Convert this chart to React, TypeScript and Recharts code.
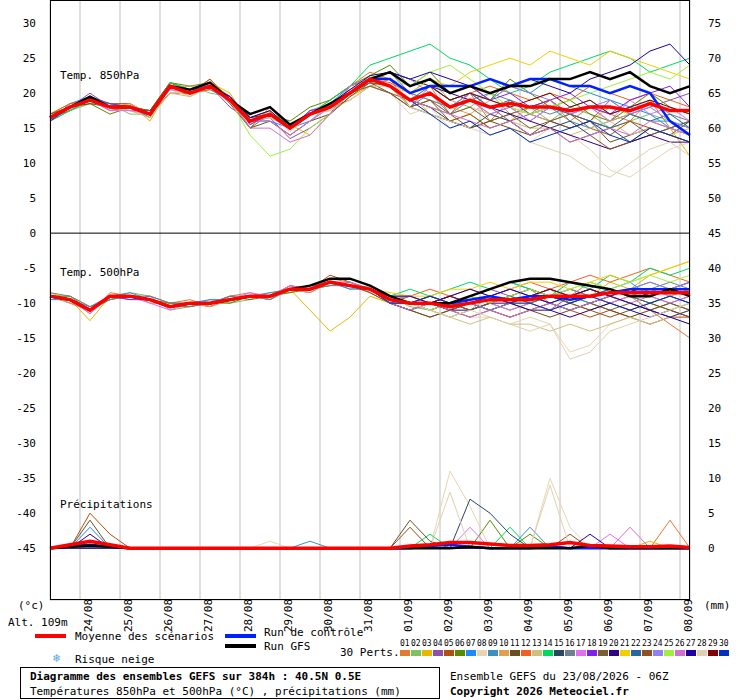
import React from 'react';
import { ComposedChart, Line, XAxis, YAxis, CartesianGrid, ReferenceLine } from 'recharts';

// 12-hourly steps from 23/08 06Z (hours)
const steps = [0,12,24,36,48,60,72,84,96,108,120,132,144,156,168,180,192,204,216,228,240,252,264,276,288,300,312,324,336,348,360,372,384];
const dayTicks = [18,42,66,90,114,138,162,186,210,234,258,282,306,330,354,378];
const dayLabels = ['24/08','25/08','26/08','27/08','28/08','29/08','30/08','31/08','01/09','02/09','03/09','04/09','05/09','06/09','07/09','08/09'];
const leftTicks = [30,25,20,15,10,5,0,-5,-10,-15,-20,-25,-30,-35,-40,-45];

const memberColors = ['#e07b30','#80c060','#e6b800','#8e4fa8','#b05010','#5a8a00','#1e88ff','#e8d4b0','#3a90c0','#e0a050','#6a5020','#f06020','#d0c080','#00d860','#284860','#708090','#e070f0','#8020f0','#7a6030','#300080','#f0d000','#2868a0','#905020','#9080f0','#a0f040','#d070d0','#2000a0','#e0d0b0','#800000','#0030c0'];

const mean850 = [16.5,18,19,18,18,17,21,20,21,19,16,17,15,17,18,20,22,21,19,20,18,19,18,18.5,18,18,17.5,18,18,17.5,18.5,17.5,17.5];
const ctrl850 = [16.5,18,19,18,18,17,21,20,21,19,16,17,15,17,18,20,22,22,20,21,21,21,22,21,22,22,21,21,20,21,20,16,14];
const gfs850 = [16.5,18,19.5,18,18,17,21,20.5,21.5,19,17,18,15.5,17,18.5,20,22,23,21,22,20,21,20,21,21,22,22,23,22,23,21,20,21];
const mean500 = [-9,-9.5,-11,-9,-9,-9.5,-10.5,-10,-10,-9.5,-9,-9,-8,-8,-7,-7.5,-8,-9.5,-10,-10,-10.5,-10,-9.5,-9.5,-9.5,-9,-9,-9,-8.5,-8.5,-8.5,-8.5,-8.5];
const ctrl500 = [-9,-9.5,-11,-9,-9,-9.5,-10.5,-10,-10,-9.5,-9,-9,-8,-8,-7,-7.5,-8,-9.5,-10,-10,-10,-9.5,-9,-9.5,-9,-9,-9.5,-9,-8.5,-8,-8,-8,-8];
const gfs500 = [-9,-9.5,-11,-9,-9,-9.5,-10.5,-10,-10,-9.5,-9,-9,-8,-7.5,-6.5,-6.5,-7.5,-9,-10,-10,-10,-9,-8,-7,-6.5,-6.5,-7,-7.5,-8,-9,-9,-8,-9];
const meanPr = [0,0.5,1,0.5,0,0,0,0,0,0,0,0,0,0,0,0,0,0,0.3,0.5,0.8,0.8,0.6,0.4,0.4,0.5,0.8,0.4,0.3,0.2,0.2,0.3,0.1];
const ctrlPr = [0,0.3,0.5,0.2,0,0,0,0,0,0,0,0,0,0,0,0,0,0,0,0.3,0.5,0.2,0,0,0,0.3,0,0,0,0,0,0,0];
const gfsPr = [0,0.2,0.4,0.2,0,0,0,0,0,0,0,0,0,0,0,0,0,0,0,0,0,0.2,0,0,0,0,0,0.4,0,0,0,0,0];

const pert850 = [
  [16,18,19.5,17.5,18,16.5,21.5,20,22,19,15,18,15,17,19,21,23,22,18,21,17,20,16,19,17,19,16,18,17,16,19,15,14],
  [16.5,17.5,18.5,18.5,17,17,20.5,21,20,19.5,16.5,16,14,16,18.5,20,22.5,22,20,22,19,18,20,17,18,16,18,17,15,16,17,16,15],
  [17,18.5,19,18,18.5,16,21,19.5,21.5,20,15.5,17,15.5,14,17,19.5,21,22,20,17,16,17,15,16,18,19,17,16,18,17,16,15,11],
  [16,18,20,18,17.5,17.5,21,20.5,21,18,16,16.5,13.5,15,17,21,22,23,20,21,19,20,18,16,17,16,15,16,19,17,18,19,20],
  [16.5,17.5,19,18.5,18.5,17,20,20,22,19,16.5,17.5,15,17,18,19,21,20,19,18,17,15,16,17,18,19,17,15,14,16,15,14,13],
  [17,18,18.5,17,18,17.5,21.5,21,21.5,19.5,15,17,16,18,19,21,22.5,24,21,23,20,21,19,22,20,18,19,17,16,18,20,18,17],
  [16,18.5,19.5,18,18,16.5,21,20,20.5,19,16,16,15,16,18,20,21.5,21,18,20,18,20,19,21,20,22,21,20,19,18,17,15,14],
  [16.5,18,19,18,17.5,17,20.5,19.5,21,18.5,15.5,17,14.5,17,17.5,19,21,20,17,18,15,16,14,15,13,15,14,12,9,8,10,12,13],
  [16,17.5,19,18.5,18,17,21,20,21,19.5,16,17,15,17.5,18.5,21,22,21,19,20,17,19,17,18,16,18,16,15,16,17,16,16,15],
  [16.5,18,19.5,18,18.5,17,21,21,21,19,16,17.5,15,17,18,20,21,22,20,19,18,17,19,18,17,16,17,18,16,17,16,15,14],
  [16,18,18.5,18,18,17.5,21.5,20.5,21.5,18.5,15,16,14,16,17,19.5,21.5,20,18,17,16,15,16,15,14,16,15,16,13,14,15,14,16],
  [17,18.5,19,17.5,18,17,21,20,20.5,19.5,16.5,17,15.5,17,18,20.5,22,21.5,20,21,19,20,21,20,19,20,19,21,20,19,20,19,18],
  [16.5,18,19,18,17.5,16.5,20,19.5,21,19,16,16.5,15,17,17.5,20,21,21,19,18,17,18,17,16,15,15,14,15,16,14,15,14,15],
  [16,17.5,19,18.5,18,17,21.5,20.5,21,19,16,17,15,17,19,21,24,25,26,27,25,24,22,20,21,23,24,25,26,25,23,24,25],
  [16.5,18,19.5,18,18,17,21,20,21,19.5,16.5,17,15.5,17,18,20,22,21,19,18,16,15,17,16,14,15,16,14,15,13,14,15,16],
  [16,18,19,18,18,17,21,20,21,19,16,17,15,17,18,20,22,22,20,19,18,19,20,19,18,17,18,19,17,18,19,17,16],
  [16.5,18,19,17.5,17.5,17,20.5,20,21.5,19,16,16,14,16,18,21,22,21,19,20,18,19,17,18,16,18,17,18,16,19,17,18,16],
  [16,18,19.5,18.5,18,17,21,20.5,21,19.5,15.5,17,15,17.5,18,20,22,23,21,22,20,21,19,20,18,19,20,18,17,19,20,21,18],
  [17,18,19,18,18,17.5,21,20,21,19,16,17,15,17,18,20,21,20,18,19,17,18,16,17,15,16,17,16,15,16,14,15,16],
  [16,18,19,18,18,17,21,20,21,19.5,16.5,17.5,15,17,18.5,20.5,22.5,23,22,21,20,19,18,17,16,15,14,13,12,13,14,13,13],
  [16.5,18,19,18,18,17,21,20,21,19,16,17,15,17,18,20,22,21,20,22,21,23,24,25,24,26,25,24,26,25,24,23,22],
  [16,18,19,18,18,17,21,20,21,19,16,17,15,17,18,20,22,21,19,21,19,20,18,19,17,18,17,16,15,17,16,17,15],
  [16.5,18,19,18,18,17,21,20,21,19,16,17,15,17,18,20,21.5,21,18,19,16,17,15,16,14,15,13,14,12,13,15,14,13],
  [16,18,19,18,18,17,21,20,21,19,16,17,15,17,18,20,22,23,22,20,18,20,19,21,20,19,17,18,19,17,18,16,15],
  [16.5,18,19,18,18,17,21,20,21,19,14,11,12,15,17,20,22,22,21,23,24,22,20,18,17,18,19,20,21,22,23,22,24],
  [16,18,19,18,18,17,21,20,21,19,15,15,13,14,17,20,22,21,19,18,17,16,15,16,14,15,13,14,15,14,16,15,14],
  [16.5,18,19,18,18,17,21,20,21,19,16,17,15,17,18,20,22,23,22,23,22,21,20,21,22,21,20,22,23,24,26,27,24],
  [16,18,19,18,18,17,21,20,21,19,16,17,15,17,18,20,22,21,18,17,16,15,14,15,13,12,11,9,8,10,12,13,11],
  [16.5,18,19,18,18,17,21,20,21,19,16,17,15,17,18,20,22,22,20,21,19,20,19,18,19,20,18,19,17,18,19,18,17],
  [16,18,19,18,18,17,21,20,21,19,16,17,15,17,18,20,22,21,19,17,15,16,14,15,13,14,15,16,14,13,15,14,13],
];

const pert500 = [
  [-9,-9.5,-11.5,-8.5,-9,-10,-10,-9.5,-10.5,-9,-8.5,-9.5,-7.5,-8,-6.5,-7,-8.5,-10,-11,-10,-11,-9,-10,-9,-8,-10,-9,-7,-8,-9,-11,-13,-15],
  [-9,-9,-10.5,-9.5,-8.5,-9,-11,-10.5,-9.5,-10,-9.5,-8.5,-8.5,-7.5,-7,-8,-7.5,-9,-10.5,-11,-10,-11,-9,-10,-10,-9,-10,-9,-8,-9,-10,-9,-8],
  [-8.5,-9.5,-12.5,-9,-9,-9.5,-10.5,-10,-10,-9.5,-9,-9,-8,-11,-14,-12,-9,-10,-9,-10,-11,-10,-11,-10,-9,-8,-10,-9,-7,-8,-6,-5,-4],
  [-9,-10,-11,-9,-9.5,-9,-10,-10,-10.5,-9.5,-9,-9.5,-8,-8.5,-7,-7.5,-8,-9,-10,-9,-10,-9,-8,-9,-10,-11,-9,-10,-9,-8,-9,-10,-9],
  [-9,-9.5,-11,-9.5,-9,-9.5,-10.5,-10.5,-10,-9,-9.5,-9,-7.5,-8,-6,-7,-8,-10,-11,-12,-11,-10,-11,-12,-11,-10,-11,-12,-11,-12,-13,-12,-12],
  [-9,-9,-11,-9,-9,-9.5,-10,-10,-10,-10,-9,-9,-8.5,-8,-7.5,-7,-8,-9.5,-10,-11,-12,-11,-10,-11,-10,-9,-10,-11,-10,-9,-10,-11,-10],
  [-9.5,-9.5,-11,-9,-9,-9.5,-10.5,-10,-9.5,-9.5,-9,-9,-8,-8,-7,-8,-8,-10,-10,-9,-10,-9,-8,-7,-8,-9,-8,-9,-8,-7,-9,-8,-7],
  [-9,-9.5,-11,-9,-9,-9.5,-10.5,-10,-10,-9.5,-9,-9,-8,-8,-7,-7.5,-8,-9.5,-10,-10,-11,-12,-12,-13,-12,-13,-17,-16,-13,-12,-11,-12,-13],
  [-9,-9.5,-10.5,-9,-8.5,-9.5,-10.5,-10,-10,-9.5,-9,-8.5,-8,-7.5,-7,-7.5,-8,-9,-10,-10,-9,-10,-9,-10,-9,-8,-9,-10,-9,-8,-7,-8,-9],
  [-9,-10,-11,-9,-9,-9.5,-10.5,-10,-10.5,-9.5,-9,-9.5,-8,-8.5,-7,-7.5,-8,-10,-10,-11,-10,-9,-10,-9,-10,-9,-8,-9,-10,-9,-8,-9,-8],
  [-9,-9.5,-11,-9,-9,-9.5,-10.5,-10,-10,-9.5,-9,-9,-8,-8,-7,-7.5,-8.5,-10,-11,-12,-11,-12,-11,-10,-11,-12,-11,-10,-11,-12,-11,-10,-11],
  [-9,-9.5,-11,-9,-9,-9.5,-10.5,-10,-10,-9.5,-9,-9,-8,-8,-7,-7.5,-8,-9,-9,-8,-9,-8,-9,-8,-7,-8,-7,-6,-7,-6,-5,-6,-7],
  [-9,-9.5,-11,-9,-9,-9.5,-10.5,-10,-10,-9.5,-9,-9,-8,-8,-7,-7.5,-8,-9.5,-10,-11,-12,-13,-12,-13,-13,-14,-13,-14,-13,-12,-13,-12,-11],
  [-9,-9.5,-11,-9,-9,-9.5,-10.5,-10,-10,-9.5,-9,-9,-8,-8,-7,-7.5,-8,-9,-8,-9,-8,-7,-8,-7,-8,-9,-7,-8,-6,-7,-5,-6,-5],
  [-9,-9.5,-11,-9,-9,-9.5,-10.5,-10,-10,-9.5,-9,-9,-8,-8,-7,-7.5,-8,-10,-11,-10,-11,-10,-11,-10,-9,-10,-11,-10,-9,-10,-11,-12,-11],
  [-8.5,-9,-10.5,-9.5,-9,-9,-10,-10.5,-10,-9,-9,-9.5,-8,-8,-7.5,-7.5,-8,-9.5,-10,-9,-10,-9,-10,-9,-8,-9,-8,-9,-8,-9,-8,-7,-8],
  [-9,-9.5,-11.5,-9,-9,-10,-11,-10,-10,-9.5,-8.5,-9,-7.5,-8,-7,-7,-8,-9,-10,-11,-10,-11,-10,-11,-10,-11,-10,-9,-10,-9,-8,-9,-10],
  [-9,-9.5,-11,-9,-9.5,-9.5,-10.5,-10,-10,-9.5,-9,-9,-8,-8,-7,-7.5,-8,-9.5,-10,-10,-9,-10,-9,-8,-9,-8,-9,-8,-9,-8,-9,-8,-7],
  [-9,-9.5,-11,-9,-9,-9.5,-10.5,-10,-10,-9.5,-9,-9,-8,-8,-7,-7.5,-8,-10,-9,-10,-11,-10,-11,-12,-11,-10,-11,-10,-11,-10,-11,-10,-11],
  [-9,-9.5,-11,-9,-9,-9.5,-10.5,-10,-10,-9.5,-9,-9,-8,-8,-7,-7.5,-8,-9,-10,-10,-11,-11,-10,-10,-11,-11,-12,-11,-10,-11,-12,-11,-12],
  [-9,-9.5,-11,-9,-9,-9.5,-10.5,-10,-10,-9.5,-9,-9,-8,-8,-7,-7.5,-8,-8.5,-9,-9,-8,-8,-7,-8,-7,-7,-8,-7,-6,-7,-6,-5,-4],
  [-9,-9.5,-11,-9,-9,-9.5,-10.5,-10,-10,-9.5,-9,-9,-8,-8,-7,-7.5,-8,-10,-10,-11,-10,-11,-10,-9,-10,-9,-10,-9,-8,-9,-10,-9,-10],
  [-9,-9.5,-11,-9,-9,-9.5,-10.5,-10,-10,-9.5,-9,-9,-8,-8,-7,-7.5,-8,-9,-10,-9,-10,-11,-10,-9,-8,-9,-10,-11,-12,-11,-10,-11,-12],
  [-9,-9.5,-11,-9,-9,-9.5,-10.5,-10,-10,-9.5,-9,-9,-8,-8,-7,-7.5,-8,-9.5,-9,-10,-9,-10,-11,-10,-9,-10,-9,-8,-9,-8,-7,-8,-7],
  [-9,-9.5,-11,-9,-9,-9.5,-10.5,-10,-10,-9.5,-9,-9,-8,-8,-7,-7.5,-8,-9,-10,-11,-10,-9,-10,-9,-8,-9,-8,-7,-8,-7,-6,-7,-6],
  [-9,-9.5,-11,-9,-9,-9.5,-10.5,-10,-10,-9.5,-9,-9,-8,-8,-7,-7.5,-8,-10,-11,-10,-11,-12,-11,-12,-11,-10,-11,-10,-9,-10,-9,-10,-9],
  [-9,-9.5,-11,-9,-9,-9.5,-10.5,-10,-10,-9.5,-9,-9,-8,-8,-7,-7.5,-8,-9,-9,-10,-9,-8,-9,-8,-9,-10,-9,-8,-9,-10,-11,-12,-13],
  [-9,-9.5,-11,-9,-9,-9.5,-10.5,-10,-10,-9.5,-9,-9,-8,-8,-7,-7.5,-8,-9.5,-10,-11,-12,-11,-12,-13,-14,-13,-18,-17,-14,-13,-12,-11,-10],
  [-9,-9.5,-11,-9,-9,-9.5,-10.5,-10,-10,-9.5,-9,-9,-8,-8,-7,-7.5,-8,-9,-10,-10,-9,-10,-9,-10,-9,-8,-9,-8,-9,-8,-9,-8,-9],
  [-9,-9.5,-11,-9,-9,-9.5,-10.5,-10,-10,-9.5,-9,-9,-8,-8,-7,-7.5,-8,-10,-10,-9,-10,-10,-9,-10,-10,-11,-10,-9,-10,-11,-10,-9,-10],
];

// precipitation events per member: [step index, mm]
const precipEvents: number[][][] = [
  [[31,4]], [], [[30,1]], [], [[2,5],[3,2]], [[22,4],[24,2]], [[2,3]], [[11,1],[20,11],[21,6],[25,10],[26,3]],
  [[13,1],[24,3]], [], [[2,4],[18,4],[19,1]], [], [], [[19,2],[23,3]], [[21,7],[22,5],[23,2]], [],
  [[21,3],[28,2]], [], [], [[2,2]], [], [], [[18,3],[26,2]], [], [], [[29,3]], [[27,2]], [[20,8],[25,9]], [], [],
];

const data = steps.map((t, i) => {
  const row: Record<string, number> = {
    t, m850: mean850[i], c850: ctrl850[i], g850: gfs850[i],
    m500: mean500[i], c500: ctrl500[i], g500: gfs500[i],
    mpr: meanPr[i], cpr: ctrlPr[i], gpr: gfsPr[i],
  };
  pert850.forEach((s, k) => { row['p' + k + '_850'] = s[i]; });
  pert500.forEach((s, k) => { row['p' + k + '_500'] = s[i]; });
  precipEvents.forEach((ev, k) => {
    const e = ev.find((x) => x[0] === i);
    row['p' + k + '_pr'] = e ? e[1] : 0;
  });
  return row;
});

const font = '"DejaVu Sans Mono", monospace';

const LeftTick = (props: any) => (
  <text x={36} y={props.y + 4} textAnchor="end" fontSize={11} fontFamily={font} fill="#000">{props.payload.value}</text>
);
const RightTick = (props: any) => (
  <text x={708} y={props.y + 4} textAnchor="start" fontSize={11} fontFamily={font} fill="#000">{props.payload.value}</text>
);
const DayTick = (props: any) => {
  const idx = dayTicks.indexOf(props.payload.value);
  return (
    <text x={0} y={0} transform={`translate(${props.x + 12},${632}) rotate(-90)`} fontSize={11} fontFamily={font} fill="#000">{dayLabels[idx]}</text>
  );
};

const txt: React.CSSProperties = { position: 'absolute', fontFamily: font, fontSize: 11, whiteSpace: 'nowrap', lineHeight: '11px' };

const App: React.FC = () => {
  const lines: React.ReactNode[] = [];
  memberColors.forEach((c, k) => {
    lines.push(<Line key={'a' + k} yAxisId="l" dataKey={'p' + k + '_850'} stroke={c} strokeWidth={1} dot={false} isAnimationActive={false} />);
    lines.push(<Line key={'b' + k} yAxisId="l" dataKey={'p' + k + '_500'} stroke={c} strokeWidth={1} dot={false} isAnimationActive={false} />);
    lines.push(<Line key={'c' + k} yAxisId="r" dataKey={'p' + k + '_pr'} stroke={c} strokeWidth={1} dot={false} isAnimationActive={false} />);
  });
  return (
    <div style={{ position: 'absolute', left: 0, top: 0, width: 740, height: 700, background: '#fff' }}>
      <ComposedChart width={740} height={640} data={data} margin={{ top: 0, right: 0, bottom: 0, left: 0 }}>
        <CartesianGrid stroke="#c0c0c0" strokeWidth={1} />
        <XAxis dataKey="t" type="number" domain={[0, 384]} ticks={dayTicks} tick={<DayTick />} height={40} axisLine={false} tickLine={false} interval={0} />
        <YAxis yAxisId="l" orientation="left" type="number" domain={[-52.4, 33.3]} ticks={leftTicks} tick={<LeftTick />} width={50} axisLine={false} tickLine={false} interval={0} allowDataOverflow />
        <YAxis yAxisId="r" orientation="right" type="number" domain={[-7.4, 78.3]} ticks={leftTicks.map((v) => v + 45)} tick={<RightTick />} width={50} axisLine={false} tickLine={false} interval={0} allowDataOverflow />
        <ReferenceLine yAxisId="l" y={0} stroke="#000" strokeWidth={1} />
        {lines}
        <Line yAxisId="l" dataKey="c850" stroke="#0020ff" strokeWidth={2.5} dot={false} isAnimationActive={false} />
        <Line yAxisId="l" dataKey="c500" stroke="#0020ff" strokeWidth={2.5} dot={false} isAnimationActive={false} />
        <Line yAxisId="r" dataKey="cpr" stroke="#0020ff" strokeWidth={2.5} dot={false} isAnimationActive={false} />
        <Line yAxisId="l" dataKey="g850" stroke="#000" strokeWidth={2.5} dot={false} isAnimationActive={false} />
        <Line yAxisId="l" dataKey="g500" stroke="#000" strokeWidth={2.5} dot={false} isAnimationActive={false} />
        <Line yAxisId="r" dataKey="gpr" stroke="#000" strokeWidth={2.5} dot={false} isAnimationActive={false} />
        <Line yAxisId="l" dataKey="m850" stroke="#ff0000" strokeWidth={3.5} dot={false} isAnimationActive={false} />
        <Line yAxisId="l" dataKey="m500" stroke="#ff0000" strokeWidth={3.5} dot={false} isAnimationActive={false} />
        <Line yAxisId="r" dataKey="mpr" stroke="#ff0000" strokeWidth={3.5} dot={false} isAnimationActive={false} />
      </ComposedChart>
      <div style={{ position: 'absolute', left: 50, top: 0, width: 640, height: 600, border: '1px solid #000', boxSizing: 'border-box', pointerEvents: 'none' }} />
      <div style={{ ...txt, left: 60, top: 70 }}>Temp. 850hPa</div>
      <div style={{ ...txt, left: 60, top: 267 }}>Temp. 500hPa</div>
      <div style={{ ...txt, left: 60, top: 499 }}>Précipitations</div>
      <div style={{ ...txt, left: 18, top: 600 }}>(°c)</div>
      <div style={{ ...txt, left: 704, top: 600 }}>(mm)</div>
      <div style={{ ...txt, left: 8, top: 617 }}>Alt. 109m</div>
      <div style={{ position: 'absolute', left: 35, top: 634, width: 31, height: 4, background: '#ff0000' }} />
      <div style={{ ...txt, left: 75, top: 631 }}>Moyenne des scénarios</div>
      <div style={{ position: 'absolute', left: 225, top: 634, width: 31, height: 4, background: '#0020ff' }} />
      <div style={{ ...txt, left: 264, top: 627 }}>Run de contrôle</div>
      <div style={{ position: 'absolute', left: 225, top: 644, width: 31, height: 4, background: '#000' }} />
      <div style={{ ...txt, left: 264, top: 641 }}>Run GFS</div>
      <div style={{ ...txt, left: 340, top: 647 }}>30 Perts.</div>
      <div style={{ ...txt, left: 53, top: 653, color: '#4fa8e0', fontSize: 12 }}>❄</div>
      <div style={{ ...txt, left: 75, top: 654 }}>Risque neige</div>
      {memberColors.map((c, k) => (
        <React.Fragment key={k}>
          <div style={{ ...txt, left: 400 + k * 11, top: 640, fontSize: 8, lineHeight: '8px' }}>{String(k + 1).padStart(2, '0')}</div>
          <div style={{ position: 'absolute', left: 400 + k * 11, top: 650, width: 10, height: 6, background: c }} />
        </React.Fragment>
      ))}
      <div style={{ position: 'absolute', left: 20, top: 667, width: 420, height: 32, border: '1px solid #000', boxSizing: 'border-box' }} />
      <div style={{ ...txt, left: 30, top: 671, fontWeight: 'bold' }}>Diagramme des ensembles GEFS sur 384h : 40.5N 0.5E</div>
      <div style={{ ...txt, left: 30, top: 686 }}>Températures 850hPa et 500hPa (°C) , précipitations (mm)</div>
      <div style={{ ...txt, left: 450, top: 671 }}>Ensemble GEFS du 23/08/2026 - 06Z</div>
      <div style={{ ...txt, left: 450, top: 686, fontWeight: 'bold' }}>Copyright 2026 Meteociel.fr</div>
    </div>
  );
};

export default App;
